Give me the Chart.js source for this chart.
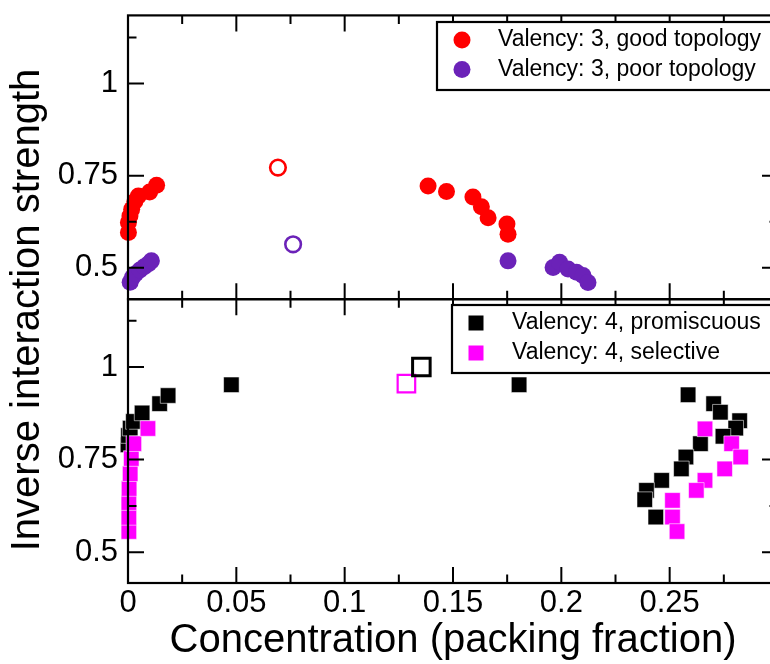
<!DOCTYPE html>
<html>
<head>
<meta charset="utf-8">
<title>Inverse interaction strength vs concentration</title>
<script src="https://cdn.jsdelivr.net/npm/chart.js@4.4.1/dist/chart.umd.min.js"></script>
<style>
  html, body { margin: 0; padding: 0; background: #fff; overflow: hidden; }
  #wrap { width: 770px; height: 664px; overflow: hidden; }
</style>
</head>
<body>
<div id="wrap"><canvas id="chart" width="800" height="664"></canvas></div>
<script>
// --- valency 3 (upper panel) ---
const goodX = [0.0002, 0.0002, 0.0009, 0.0017, 0.0032, 0.0048, 0.0100, 0.0132,
               0.1385, 0.1470, 0.1592, 0.1631, 0.1662, 0.1749, 0.1754];
const goodY = [0.596, 0.623, 0.641, 0.659, 0.681, 0.695, 0.706, 0.724,
               0.722, 0.707, 0.692, 0.666, 0.636, 0.619, 0.591];
const goodOpenX = [0.0692];
const goodOpenY = [0.772];

const poorX = [0.0010, 0.0020, 0.0035, 0.0055, 0.0075, 0.0095, 0.0108,
               0.1754, 0.1962, 0.1992, 0.2031, 0.2070, 0.2100, 0.2123];
const poorY = [0.461, 0.474, 0.484, 0.494, 0.503, 0.511, 0.519,
               0.519, 0.501, 0.515, 0.497, 0.488, 0.479, 0.460];
const poorOpenX = [0.0762];
const poorOpenY = [0.564];

// --- valency 4 (lower panel) ---
const promX = [0.0000, 0.0002, 0.0010, 0.0025, 0.0065, 0.0146, 0.0185, 0.0477, 0.1805,
               0.2585, 0.2703, 0.2734, 0.2823, 0.2805, 0.2746, 0.2642, 0.2575, 0.2554,
               0.2463, 0.2393, 0.2385, 0.2436];
const promY = [0.790, 0.815, 0.835, 0.853, 0.876, 0.901, 0.923, 0.952, 0.952,
               0.925, 0.901, 0.878, 0.855, 0.835, 0.813, 0.793, 0.757, 0.725,
               0.694, 0.667, 0.642, 0.595];
const promOpenX = [0.1354];
const promOpenY = [1.0];

const selX = [0.0004, 0.0004, 0.0004, 0.0005, 0.0010, 0.0015, 0.0027, 0.0092,
              0.2663, 0.2786, 0.2828, 0.2754, 0.2663, 0.2623, 0.2513, 0.2513, 0.2534];
const selY = [0.556, 0.594, 0.634, 0.672, 0.712, 0.753, 0.793, 0.834,
              0.833, 0.793, 0.757, 0.725, 0.694, 0.667, 0.640, 0.595, 0.556];
const selOpenX = [0.1285];
const selOpenY = [0.955];

// --- axes ---
const xLabelTicks = [0, 0.05, 0.1, 0.15, 0.2, 0.25];
const xMajorTicks = [0, 0.05, 0.1, 0.15, 0.2, 0.25, 0.3];
const xMinorTicks = [0.025, 0.075, 0.125, 0.175, 0.225, 0.275];
const yMajorTicks = [0.5, 0.75, 1];
const yMinorTicks = [0.625, 1.125];

const FONT = "'Liberation Sans', Arial, Helvetica, sans-serif";
const RED = '#ff0000';
const PURPLE = '#6b22b8';
const MAGENTA = '#ff00ff';
const BLACK = '#000000';

const pts = (xs, ys) => xs.map((x, i) => ({ x, y: ys[i] }));

function filledCircles(label, xs, ys, color, axis) {
    return {
        label, data: pts(xs, ys), yAxisID: axis, clip: false,
        pointStyle: 'circle', pointRadius: 8.5,
        pointBackgroundColor: color, pointBorderWidth: 0
    };
}
function openCircle(xs, ys, color, axis) {
    return {
        label: '', data: pts(xs, ys), yAxisID: axis, clip: false,
        pointStyle: 'circle', pointRadius: 7.8,
        pointBackgroundColor: 'rgba(255,255,255,0)',
        pointBorderColor: color, pointBorderWidth: 2.6
    };
}
function filledSquares(label, xs, ys, color, axis, order) {
    return {
        label, data: pts(xs, ys), yAxisID: axis, clip: false, order,
        pointStyle: 'rect', pointRadius: 11,
        pointBackgroundColor: color,
        pointBorderColor: 'rgba(255,255,255,0.7)', pointBorderWidth: 0.8
    };
}
function openSquare(xs, ys, color, axis, width) {
    return {
        label: '', data: pts(xs, ys), yAxisID: axis, clip: false,
        pointStyle: 'rect', pointRadius: 12.4,
        pointBackgroundColor: 'rgba(255,255,255,0)',
        pointBorderColor: color, pointBorderWidth: width
    };
}

const legends = [
    { left: 437, top: 22, height: 68, textX: 498, markX: 462,
      rows: [
        { text: 'Valency: 3, good topology', color: RED, shape: 'circle', y: 40 },
        { text: 'Valency: 3, poor topology', color: PURPLE, shape: 'circle', y: 69.5 }
      ] },
    { left: 452, top: 305, height: 68, textX: 512, markX: 476,
      rows: [
        { text: 'Valency: 4, promiscuous', color: BLACK, shape: 'rect', y: 323 },
        { text: 'Valency: 4, selective', color: MAGENTA, shape: 'rect', y: 353 }
      ] }
];

// frame with inward ticks on all four sides of each panel, then the legend boxes
const framePlugin = {
    id: 'frame',
    afterDatasetsDraw(chart) {
        const { ctx, chartArea: a, scales } = chart;
        const sx = scales.x;
        ctx.save();
        ctx.strokeStyle = '#000';
        ctx.lineCap = 'butt';

        ['yTop', 'yBottom'].forEach(id => {
            const sy = scales[id];
            const top = sy.top, bottom = sy.bottom;
            ctx.lineWidth = 2.2;
            ctx.strokeRect(a.left, top, a.right - a.left, bottom - top);

            ctx.lineWidth = 2;
            ctx.beginPath();
            const xTick = (v, len) => {
                const px = sx.getPixelForValue(v);
                ctx.moveTo(px, top); ctx.lineTo(px, top + len);
                ctx.moveTo(px, bottom); ctx.lineTo(px, bottom - len);
            };
            const yTick = (v, len) => {
                const py = sy.getPixelForValue(v);
                ctx.moveTo(a.left, py); ctx.lineTo(a.left + len, py);
                ctx.moveTo(a.right, py); ctx.lineTo(a.right - len, py);
            };
            xMajorTicks.forEach(v => xTick(v, 16));
            xMinorTicks.forEach(v => xTick(v, 8.5));
            yMajorTicks.forEach(v => yTick(v, 16));
            yMinorTicks.forEach(v => yTick(v, 8.5));
            ctx.stroke();
        });

        legends.forEach(lg => {
            ctx.fillStyle = '#fff';
            ctx.fillRect(lg.left, lg.top, 400, lg.height);
            ctx.lineWidth = 2.2;
            ctx.strokeRect(lg.left, lg.top, 400, lg.height);
            ctx.font = '23px ' + FONT;
            ctx.textBaseline = 'middle';
            ctx.textAlign = 'left';
            lg.rows.forEach(r => {
                ctx.fillStyle = r.color;
                if (r.shape === 'circle') {
                    ctx.beginPath();
                    ctx.arc(lg.markX, r.y, 8.5, 0, Math.PI * 2);
                    ctx.fill();
                } else {
                    ctx.fillRect(lg.markX - 7.5, r.y - 7.5, 15, 15);
                }
                ctx.fillStyle = '#000';
                ctx.fillText(r.text, lg.textX, r.y);
            });
        });
        ctx.restore();
    },
    afterDraw(chart) {
        const { ctx } = chart;
        ctx.save();
        ctx.translate(28, 310);
        ctx.rotate(-Math.PI / 2);
        ctx.font = '40px ' + FONT;
        ctx.fillStyle = '#000';
        ctx.textAlign = 'center';
        ctx.textBaseline = 'middle';
        ctx.fillText('Inverse interaction strength', 0, 0);
        ctx.restore();
    }
};

function yScale(min, max, weight) {
    return {
        type: 'linear', position: 'left', stack: 'panels', stackWeight: 1, weight,
        min, max,
        afterBuildTicks: s => { s.ticks = yMajorTicks.map(v => ({ value: v })); },
        afterFit: s => { s.width = 128; s.paddingTop = 0; s.paddingBottom = 0; },
        grid: { display: false, drawTicks: false },
        border: { display: false },
        ticks: {
            color: '#000', padding: 10, autoSkip: false,
            font: { family: FONT, size: 31 },
            callback: v => String(v)
        }
    };
}

new Chart(document.getElementById('chart'), {
    type: 'scatter',
    data: {
        datasets: [
            filledCircles('Valency: 3, good topology', goodX, goodY, RED, 'yTop'),
            openCircle(goodOpenX, goodOpenY, RED, 'yTop'),
            filledCircles('Valency: 3, poor topology', poorX, poorY, PURPLE, 'yTop'),
            openCircle(poorOpenX, poorOpenY, PURPLE, 'yTop'),
            filledSquares('Valency: 4, promiscuous', promX, promY, BLACK, 'yBottom', 2),
            openSquare(promOpenX, promOpenY, BLACK, 'yBottom', 3),
            filledSquares('Valency: 4, selective', selX, selY, MAGENTA, 'yBottom', 1),
            openSquare(selOpenX, selOpenY, MAGENTA, 'yBottom', 2.2)
        ]
    },
    options: {
        responsive: false,
        maintainAspectRatio: false,
        devicePixelRatio: 1,
        animation: false,
        events: [],
        layout: { padding: { top: 14, right: 22, bottom: 0, left: 0 } },
        plugins: { legend: { display: false }, tooltip: { enabled: false } },
        scales: {
            x: {
                type: 'linear', min: 0, max: 0.3,
                afterBuildTicks: s => { s.ticks = xLabelTicks.map(v => ({ value: v })); },
                afterFit: s => { s.height = 81; s.paddingLeft = 0; s.paddingRight = 0; },
                grid: { display: false, drawTicks: false },
                border: { display: false },
                ticks: {
                    color: '#000', padding: 2, maxRotation: 0, autoSkip: false,
                    font: { family: FONT, size: 31 },
                    callback: v => String(v)
                },
                title: {
                    display: true, text: 'Concentration (packing fraction)', color: '#000',
                    font: { family: FONT, size: 40, lineHeight: 1 },
                    padding: { top: 0, bottom: 3 }
                }
            },
            yTop: yScale(0.415, 1.185, 1),
            yBottom: yScale(0.417, 1.183, 0)
        }
    },
    plugins: [framePlugin]
});
</script>
</body>
</html>
